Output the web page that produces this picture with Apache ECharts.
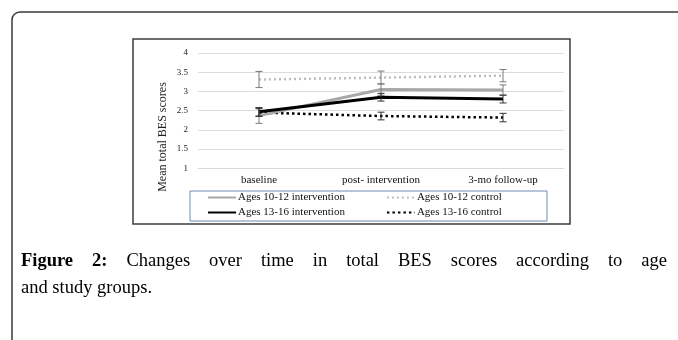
<!DOCTYPE html>
<html><head><meta charset="utf-8">
<script src="https://cdn.jsdelivr.net/npm/echarts@6/dist/echarts.min.js"></script>
<style>html,body{margin:0;padding:0;background:#fff}#c{width:678px;height:340px}</style>
</head><body><div id="c"></div>
<script>
const categories = ['baseline', 'post- intervention', '3-mo follow-up'];
const yTicks = [1, 1.5, 2, 2.5, 3, 3.5, 4];
const int1012 = [2.37, 3.05, 3.04];
const int1012Err = [0.20, 0.15, 0.13];
const ctl1012 = [3.31, 3.36, 3.41];
const ctl1012Err = [0.21, 0.17, 0.16];
const int1316 = [2.47, 2.85, 2.80];
const int1316Err = [0.11, 0.10, 0.10];
const ctl1316 = [2.45, 2.36, 2.32];
const ctl1316Err = [0.10, 0.10, 0.11];
const names = ['Ages 10-12 intervention', 'Ages 10-12 control', 'Ages 13-16 intervention', 'Ages 13-16 control'];
const captionLine1 = ['Figure', '2:', 'Changes', 'over', 'time', 'in', 'total', 'BES', 'scores', 'according', 'to', 'age'];
const captionBold = 2;
const captionLine2 = 'and study groups.';

const SERIF = '"Liberation Serif", "DejaVu Serif", serif';

function errData(vals, errs) { return vals.map((v, i) => [i, v - errs[i], v + errs[i]]); }
function errSeries(vals, errs, color) {
  return {
    type: 'custom', silent: true, z: 5,
    renderItem: function (params, api) {
      const x = api.value(0);
      const lo = api.coord([x, api.value(1)]);
      const hi = api.coord([x, api.value(2)]);
      const w = 3.5;
      const st = { stroke: color, lineWidth: 1 };
      return { type: 'group', children: [
        { type: 'line', shape: { x1: lo[0], y1: lo[1], x2: hi[0], y2: hi[1] }, style: st },
        { type: 'line', shape: { x1: lo[0] - w, y1: lo[1], x2: lo[0] + w, y2: lo[1] }, style: st },
        { type: 'line', shape: { x1: hi[0] - w, y1: hi[1], x2: hi[0] + w, y2: hi[1] }, style: st }
      ]};
    },
    encode: { x: 0, y: [1, 2] },
    data: errData(vals, errs)
  };
}

// caption word layout (justified)
const cv = document.createElement('canvas').getContext('2d');
const capSize = 18.5;
const capLeft = 21, capRight = 667;
let widths = captionLine1.map((w, i) => {
  cv.font = (i < captionBold ? 'bold ' : '') + capSize + 'px ' + SERIF;
  return cv.measureText(w).width;
});
const totalW = widths.reduce((a, b) => a + b, 0);
const gap = (capRight - capLeft - totalW) / (captionLine1.length - 1);
let cx = capLeft;
const capTexts = captionLine1.map((w, i) => {
  const el = { type: 'text', left: cx, top: 252, style: { text: w, font: (i < captionBold ? 'bold ' : '') + capSize + 'px ' + SERIF, fill: '#000' } };
  cx += widths[i] + gap;
  return el;
});

const legendCommon = {
  itemWidth: 28, itemHeight: 12, itemGap: 41, padding: 0,
  itemStyle: { opacity: 0 },
  textStyle: { fontFamily: SERIF, fontSize: 11, color: '#111', padding: [0, 0, 0, -3] }
};

const chart = echarts.init(document.getElementById('c'));
chart.setOption({
  animation: false,
  backgroundColor: '#fff',
  grid: { left: 198, right: 114, top: 53, bottom: 171.7 },
  xAxis: {
    type: 'category', data: categories, boundaryGap: true,
    axisLine: { show: true, lineStyle: { color: '#d9d9d9' } },
    axisTick: { show: false },
    axisLabel: { color: '#111', fontFamily: SERIF, fontSize: 11, margin: 6 }
  },
  yAxis: {
    type: 'value', min: yTicks[0], max: yTicks[yTicks.length - 1], interval: 0.5,
    axisLine: { show: false }, axisTick: { show: false },
    axisLabel: { color: '#222', fontFamily: SERIF, fontSize: 9, margin: 10 },
    splitLine: { lineStyle: { color: '#dcdcdc', width: 1 } }
  },
  legend: [
    Object.assign({ data: [names[0], names[1]], left: 207, top: 192 }, legendCommon),
    Object.assign({ data: [names[2], names[3]], left: 207, top: 207 }, legendCommon)
  ],
  graphic: [
    { type: 'rect', z: -10, shape: { x: 12, y: 12, width: 720, height: 360, r: [8, 0, 0, 0] }, style: { fill: '#fff', stroke: '#3a3a3a', lineWidth: 1.5 } },
    { type: 'rect', z: -9, shape: { x: 133, y: 39, width: 437, height: 185 }, style: { fill: '#fff', stroke: '#3c3c3c', lineWidth: 1.5 } },
    { type: 'rect', z: -8, shape: { x: 190, y: 191, width: 357, height: 30 }, style: { fill: '#fff', stroke: '#6f88b4', lineWidth: 1 } },
    { type: 'text', x: 163, y: 137, rotation: Math.PI / 2, style: { text: 'Mean total BES scores', font: '12px ' + SERIF, fill: '#222', align: 'center', verticalAlign: 'middle' } },
    ...capTexts,
    { type: 'text', left: capLeft, top: 279, style: { text: captionLine2, font: capSize + 'px ' + SERIF, fill: '#000' } }
  ],
  series: [
    { name: names[0], type: 'line', data: int1012, symbol: 'none', z: 3, lineStyle: { color: '#a8a8a8', width: 3 }, itemStyle: { color: '#a8a8a8' } },
    { name: names[1], type: 'line', data: ctl1012, symbol: 'none', z: 2, lineStyle: { color: '#bdbdbd', width: 2.5, type: [2, 3] }, itemStyle: { color: '#bdbdbd' } },
    { name: names[2], type: 'line', data: int1316, symbol: 'none', z: 4, lineStyle: { color: '#000', width: 3 }, itemStyle: { color: '#000' } },
    { name: names[3], type: 'line', data: ctl1316, symbol: 'none', z: 2, lineStyle: { color: '#000', width: 2.5, type: [2.5, 3] }, itemStyle: { color: '#000' } },
    errSeries(int1012, int1012Err, '#7a7a7a'),
    errSeries(ctl1012, ctl1012Err, '#7a7a7a'),
    errSeries(int1316, int1316Err, '#333'),
    errSeries(ctl1316, ctl1316Err, '#333')
  ]
});
</script></body></html>
